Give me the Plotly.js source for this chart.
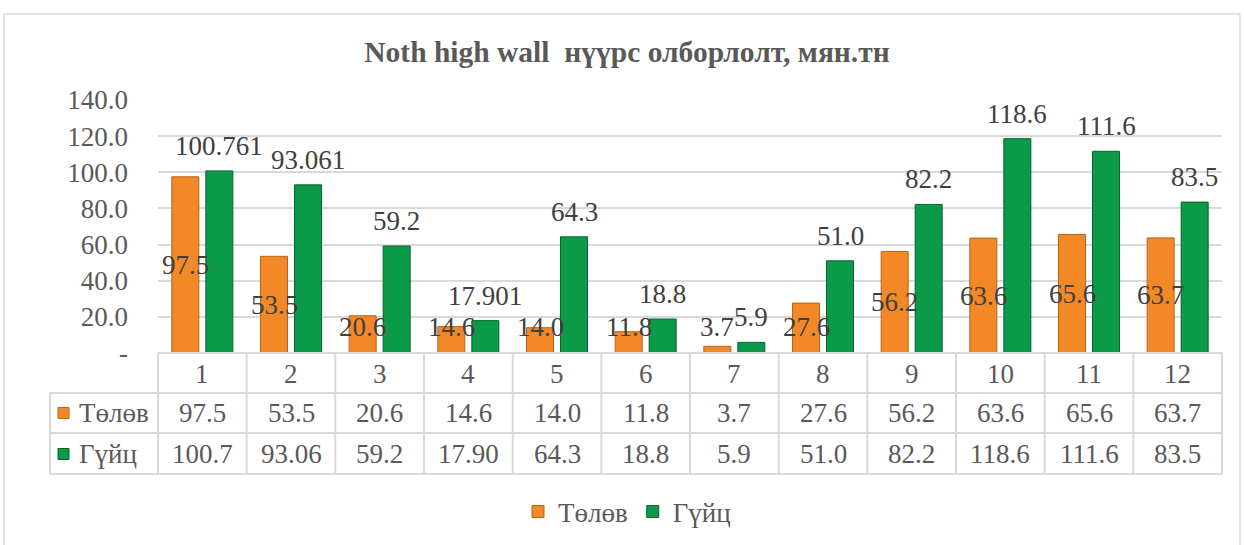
<!DOCTYPE html>
<html><head><meta charset="utf-8">
<script src="https://cdn.plot.ly/plotly-3.0.1.min.js"></script>
<style>html,body{margin:0;padding:0;background:#fff;} #chart{width:1244px;height:545px;}</style>
</head><body><div id="chart"></div>
<script>
// ---- data ----
const categories = ['1','2','3','4','5','6','7','8','9','10','11','12'];
const monthIdx = [1,2,3,4,5,6,7,8,9,10,11,12];
const seriesNames = ['Төлөв','Гүйц'];
const plannedValues = [97.5, 53.5, 20.6, 14.6, 14.0, 11.8, 3.7, 27.6, 56.2, 63.6, 65.6, 63.7];
const actualValues = [100.761, 93.061, 59.2, 17.901, 64.3, 18.8, 5.9, 51.0, 82.2, 118.6, 111.6, 83.5];
const plannedLabels = ['97.5','53.5','20.6','14.6','14.0','11.8','3.7','27.6','56.2','63.6','65.6','63.7'];
const actualLabels = ['100.761','93.061','59.2','17.901','64.3','18.8','5.9','51.0','82.2','118.6','111.6','83.5'];
const plannedTable = ['97.5','53.5','20.6','14.6','14.0','11.8','3.7','27.6','56.2','63.6','65.6','63.7'];
const actualTable = ['100.7','93.06','59.2','17.90','64.3','18.8','5.9','51.0','82.2','118.6','111.6','83.5'];
const yTickVals = [0,20,40,60,80,100,120,140];
const yTickText = ['-','20.0','40.0','60.0','80.0','100.0','120.0','140.0'];
const chartTitle = '<b>Noth high wall \u00a0нүүрс олборлолт, мян.тн</b>';

// ---- geometry / style ----
const W = 1244, H = 545;
const L = 158, R = 1222, T = 100, B = 353;
const FONT = 'Liberation Serif';
const GRAY = '#595959';
const LABEL = '#404040';
const LINE = '#d9d9d9';
const FS = 27;
const ORANGE = '#F28826', ORANGE_D = '#B8621A';
const GREEN = '#0B9A48', GREEN_D = '#05652E';
const BARGAP = 0.233, GROUPGAP = 0.206;
const OFF = (1 - BARGAP) / 4;
const px2x = p => (p - L) / (R - L);
const px2y = p => (B - p) / (B - T);
const yRow = [374, 413, 454];

const traces = [
  {type:'bar', name:seriesNames[0], x:monthIdx, y:plannedValues,
   marker:{color:ORANGE, line:{color:ORANGE_D, width:1}}, hoverinfo:'y'},
  {type:'bar', name:seriesNames[1], x:monthIdx, y:actualValues,
   marker:{color:GREEN, line:{color:GREEN_D, width:1}}, hoverinfo:'y'}
];

const shapes = [];
const ln = (x0,y0,x1,y1) => shapes.push({type:'line', xref:'paper', yref:'paper',
  x0:px2x(x0), y0:px2y(y0), x1:px2x(x1), y1:px2y(y1), line:{color:LINE, width:2}});
// chart border
shapes.push({type:'rect', xref:'paper', yref:'paper', x0:px2x(4), y0:px2y(14), x1:px2x(1240), y1:px2y(560),
  line:{color:LINE, width:1.5}, fillcolor:'rgba(0,0,0,0)', layer:'below'});
// table
ln(L, 353, R, 353);
ln(50, 393, R, 393);
ln(50, 433, R, 433);
ln(50, 474, R, 474);
ln(50, 393, 50, 474);
for (let k = 0; k <= categories.length; k++) {
  const px = L + k * (R - L) / categories.length;
  ln(px, 353, px, 474);
}
// legend keys in table
[[ORANGE, ORANGE_D, 413],[GREEN, GREEN_D, 454]].forEach(([c, d, yc]) => {
  shapes.push({type:'rect', xref:'paper', yref:'paper', x0:px2x(58), x1:px2x(69), y0:px2y(yc-5.5), y1:px2y(yc+5.5),
    fillcolor:c, line:{color:d, width:1}});
});

const ann = [];
const txt = (x, xref, y, text, size, color, xanchor) => ann.push({x, xref, y, yref:'paper', text,
  showarrow:false, xanchor:xanchor||'center', yanchor:'middle', font:{family:FONT, size, color}});
categories.forEach((c, i) => {
  txt(monthIdx[i], 'x', px2y(yRow[0]), c, FS, GRAY);
  txt(monthIdx[i], 'x', px2y(yRow[1]), plannedTable[i], FS, GRAY);
  txt(monthIdx[i], 'x', px2y(yRow[2]), actualTable[i], FS, GRAY);
  // data labels
  ann.push({x: monthIdx[i] - OFF, xref:'x', y: Math.max(plannedValues[i] / 2, 14.4), yref:'y',
    text: plannedLabels[i], showarrow:false, xanchor:'center', yanchor:'middle',
    font:{family:FONT, size:FS, color:LABEL}});
  ann.push({x: monthIdx[i] + OFF, xref:'x', y: actualValues[i], yref:'y', yshift:25,
    text: actualLabels[i], showarrow:false, xanchor:'center', yanchor:'middle',
    font:{family:FONT, size:FS, color:LABEL}});
});
txt(px2x(77), 'paper', px2y(yRow[1]), seriesNames[0], FS, GRAY, 'left');
txt(px2x(77), 'paper', px2y(yRow[2]), seriesNames[1], FS, GRAY, 'left');

const layout = {
  width:W, height:H,
  margin:{l:L, r:W-R, t:T, b:H-B, pad:0},
  paper_bgcolor:'#fff', plot_bgcolor:'#fff',
  font:{family:FONT},
  title:{text:chartTitle, xref:'container', yref:'container', x:627/W, y:1-52/H,
    xanchor:'center', yanchor:'middle', font:{family:FONT, size:29.5, color:GRAY}},
  barmode:'group', bargap:BARGAP, bargroupgap:GROUPGAP,
  xaxis:{range:[0.5, 12.5], showticklabels:false, showgrid:false, zeroline:false, showline:false, ticks:'', fixedrange:true},
  yaxis:{range:[0,140], tickvals:yTickVals, ticktext:yTickText, showgrid:true, gridcolor:LINE, gridwidth:2,
    zeroline:false, showline:false, ticks:'', ticklabelstandoff:29,
    tickfont:{family:FONT, size:FS, color:GRAY}, fixedrange:true},
  showlegend:true,
  legend:{orientation:'h', xref:'container', yref:'container', x:627/W, y:1-512/H, xanchor:'center', yanchor:'middle',
    font:{family:FONT, size:FS, color:GRAY}, bgcolor:'rgba(0,0,0,0)', itemclick:false},
  shapes, annotations:ann
};
Plotly.newPlot('chart', traces, layout, {displayModeBar:false, staticPlot:true});
</script></body></html>
